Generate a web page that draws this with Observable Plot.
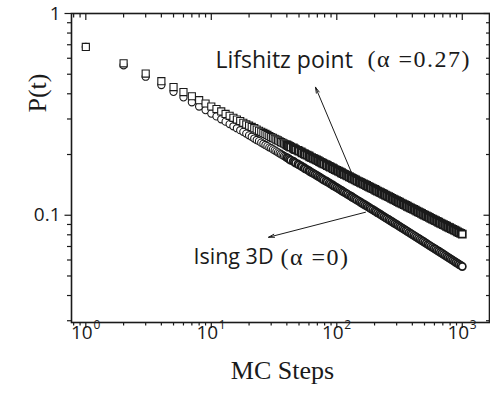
<!DOCTYPE html>
<html><head><meta charset="utf-8">
<script src="https://cdn.jsdelivr.net/npm/d3@7"></script>
<script src="https://cdn.jsdelivr.net/npm/@observablehq/plot@0.6"></script>
<style>body{margin:0;background:#fff}</style>
</head><body><div id="chart"></div>
<script>
// MC steps (t)
const steps = [1,2,3,4,5,6,7,8,9,10,
  11,12,13,14,15,16,17,18,19,20,
  21,22,23,24,25,26,27,28,29,30,
  31,32,33,34,35,36,37,38,39,40,
  41,42,43,45,46,47,49,50,52,53,
  55,56,58,60,61,63,65,67,69,71,
  73,75,77,79,82,84,87,89,92,94,
  97,100,103,106,109,112,115,119,122,126,
  130,133,137,141,145,150,154,158,163,168,
  173,178,183,188,194,200,205,211,218,224,
  230,237,244,251,259,266,274,282,290,299,
  307,316,325,335,345,355,365,376,387,398,
  410,422,434,447,460,473,487,501,516,531,
  546,562,579,596,613,631,649,668,688,708,
  729,750,772,794,818,841,866,891,917,944,
  972,1000];
// P(t), Lifshitz point (squares)
const lifshitz = [0.683,0.566,0.504,0.462,0.432,0.408,0.389,0.372,0.358,0.346,
  0.336,0.327,0.318,0.311,0.304,0.298,0.293,0.287,0.282,0.278,
  0.274,0.270,0.266,0.262,0.259,0.256,0.253,0.250,0.247,0.244,
  0.2419,0.2394,0.2371,0.2350,0.2327,0.2306,0.2287,0.2268,0.2249,0.2231,
  0.2214,0.2194,0.2174,0.2154,0.2134,0.2115,0.2096,0.2078,0.2059,0.2040,
  0.2022,0.2004,0.1985,0.1967,0.1949,0.1932,0.1914,0.1897,0.1880,0.1863,
  0.1846,0.1829,0.1812,0.1796,0.1780,0.1764,0.1748,0.1732,0.1716,0.1701,
  0.1685,0.1669,0.1654,0.1639,0.1624,0.1609,0.1594,0.1580,0.1566,0.1552,
  0.1538,0.1524,0.1510,0.1496,0.1482,0.1469,0.1456,0.1443,0.1430,0.1417,
  0.1404,0.1391,0.1378,0.1366,0.1354,0.1342,0.1330,0.1318,0.1306,0.1294,
  0.1282,0.1271,0.1259,0.1247,0.1236,0.1225,0.1213,0.1202,0.1191,0.1181,
  0.1170,0.1160,0.1149,0.1139,0.1128,0.1118,0.1108,0.1098,0.1088,0.1078,
  0.1068,0.1059,0.1049,0.1039,0.1030,0.1021,0.1011,0.1002,0.0993,0.0984,
  0.0975,0.0966,0.0957,0.0949,0.0940,0.0932,0.0923,0.0915,0.0907,0.0899,
  0.0890,0.0882,0.0874,0.0867,0.0859,0.0851,0.0843,0.0836,0.0828,0.0821,
  0.0813,0.0806];
// P(t), Ising 3D (circles)
const ising = [0.683,0.554,0.486,0.442,0.409,0.384,0.363,0.346,0.332,0.319,
  0.309,0.299,0.291,0.283,0.276,0.270,0.264,0.259,0.254,0.249,
  0.245,0.240,0.236,0.233,0.229,0.226,0.223,0.220,0.217,0.215,
  0.2120,0.2096,0.2073,0.2050,0.2028,0.2007,0.1986,0.1967,0.1949,0.1930,
  0.1914,0.1893,0.1873,0.1853,0.1833,0.1813,0.1794,0.1775,0.1756,0.1737,
  0.1719,0.1700,0.1682,0.1664,0.1647,0.1629,0.1612,0.1594,0.1577,0.1560,
  0.1544,0.1527,0.1511,0.1494,0.1478,0.1462,0.1447,0.1431,0.1416,0.1400,
  0.1385,0.1370,0.1355,0.1340,0.1326,0.1311,0.1297,0.1283,0.1269,0.1255,
  0.1242,0.1228,0.1215,0.1201,0.1188,0.1175,0.1162,0.1149,0.1137,0.1124,
  0.1112,0.1099,0.1087,0.1075,0.1064,0.1052,0.1041,0.1029,0.1018,0.1006,
  0.0995,0.0984,0.0973,0.0962,0.0952,0.0941,0.0931,0.0920,0.0910,0.0900,
  0.0890,0.0880,0.0870,0.0860,0.0851,0.0841,0.0832,0.0822,0.0813,0.0804,
  0.0795,0.0786,0.0777,0.0768,0.0760,0.0751,0.0743,0.0734,0.0726,0.0717,
  0.0709,0.0701,0.0693,0.0685,0.0678,0.0670,0.0663,0.0655,0.0648,0.0640,
  0.0633,0.0625,0.0618,0.0611,0.0604,0.0597,0.0590,0.0583,0.0577,0.0570,
  0.0564,0.0557];

const xMajor = [1, 10, 100, 1000];
const xExp = ["0", "1", "2", "3"];
const xMinor = [0.8,0.9,2,3,4,5,6,7,8,9,20,30,40,50,60,70,80,90,200,300,400,500,600,700,800,900];
const yMajor = [0.1, 1];
const yLabels = ["0.1", "1"];
const yMinor = [0.03,0.04,0.05,0.06,0.07,0.08,0.09,0.2,0.3,0.4,0.5,0.6,0.7,0.8,0.9];

const annText = ["Lifshitz point", "Ising 3D"];
const annX = [10.8, 7.21];
const annY = [0.587, 0.0619];
const annMath = ["(α =0.27)", "(α =0)"];
const mathX = [175.7, 35.6];
const mathY = [0.590, 0.0622];
const arrowX1 = [135.8, 169.3], arrowY1 = [0.1543, 0.1035];
const arrowX2 = [67.7, 28.6], arrowY2 = [0.431, 0.0778];

const lifData = steps.map((t, i) => ({t, p: lifshitz[i]}));
const isingData = steps.map((t, i) => ({t, p: ising[i]}));
const ann = annText.map((s, i) => ({s, x: annX[i], y: annY[i]}));
const annM = annMath.map((s, i) => ({s, x: mathX[i], y: mathY[i]}));
const arrows = arrowX1.map((d, i) => ({x1: d, y1: arrowY1[i], x2: arrowX2[i], y2: arrowY2[i]}));

const ink = "#1a1a1a";
const sans = "Open Sans";
const serif = "Liberation Serif";
const tickCommon = {tickFormat: () => "", label: null, stroke: ink, strokeWidth: 1.2};
// outlines thicken where the 1000 original markers pile up into a dark band
const markerStroke = d => d.t < 40 ? 1.1 : 1.7;

const plot = Plot.plot({
  width: 490, height: 399,
  marginLeft: 71, marginRight: 1, marginTop: 13, marginBottom: 77,
  style: {background: "white", color: ink},
  x: {type: "log", domain: [0.769, 1648], label: null},
  y: {type: "log", domain: [0.0294, 1], label: null},
  marks: [
    Plot.axisX(xMajor, {anchor: "bottom", tickSize: 6, ...tickCommon}),
    Plot.axisX(xMinor, {anchor: "bottom", tickSize: 3.5, ...tickCommon}),
    Plot.axisX(xMajor, {anchor: "top", tickSize: -6, ...tickCommon}),
    Plot.axisX(xMinor, {anchor: "top", tickSize: -3.5, ...tickCommon}),
    Plot.axisY(yMajor, {anchor: "left", tickSize: 6.5, ...tickCommon}),
    Plot.axisY(yMinor, {anchor: "left", tickSize: 4, ...tickCommon}),
    Plot.axisY(yMajor, {anchor: "right", tickSize: -6.5, ...tickCommon}),
    Plot.axisY(yMinor, {anchor: "right", tickSize: -4, ...tickCommon}),
    Plot.dot(isingData, {x: "t", y: "p", symbol: "circle", r: 3.6, stroke: ink, fill: "white", strokeWidth: markerStroke}),
    Plot.dot(lifData, {x: "t", y: "p", symbol: "square", r: 4, stroke: ink, fill: "white", strokeWidth: markerStroke}),
    Plot.frame({stroke: ink, strokeWidth: 1.6}),
    Plot.text(xMajor, {x: d => d, frameAnchor: "bottom", text: () => "10", dx: -4, dy: 16.5, fontSize: 19, fontFamily: sans, fill: ink}),
    Plot.text(xMajor, {x: d => d, frameAnchor: "bottom", text: (d, i) => xExp[i], dx: 11, dy: 6, fontSize: 12, fontFamily: sans, fill: ink}),
    Plot.text(yMajor, {y: d => d, frameAnchor: "left", text: (d, i) => yLabels[i], textAnchor: "end", dx: -11, fontSize: 19, fontFamily: sans, fill: ink}),
    Plot.text(["MC Steps"], {frameAnchor: "bottom", text: d => d, dx: 2, dy: 56, fontSize: 26, fontFamily: serif, fill: ink}),
    Plot.text(["P(t)"], {frameAnchor: "top-left", text: d => d, dx: -44, dy: 99, rotate: -90, fontSize: 26, fontFamily: serif, fill: ink}),
    Plot.arrow(arrows, {x1: "x1", y1: "y1", x2: "x2", y2: "y2", stroke: ink, strokeWidth: 1, headLength: 9, headAngle: 30}),
    Plot.text(ann.slice(0, 1), {x: "x", y: "y", text: "s", textAnchor: "start", fontSize: 23, fontFamily: sans, fill: ink}),
    Plot.text(ann.slice(1), {x: "x", y: "y", text: "s", textAnchor: "start", fontSize: 21.5, fontFamily: sans, fill: ink}),
    Plot.text(annM, {x: "x", y: "y", text: "s", textAnchor: "start", fontSize: 24, fontFamily: serif, fill: ink})
  ]
});
plot.querySelectorAll("text").forEach(t => {
  if (t.textContent.includes("α")) t.setAttribute("letter-spacing", "1.5");
});
document.getElementById("chart").appendChild(plot);
</script>
</body></html>
